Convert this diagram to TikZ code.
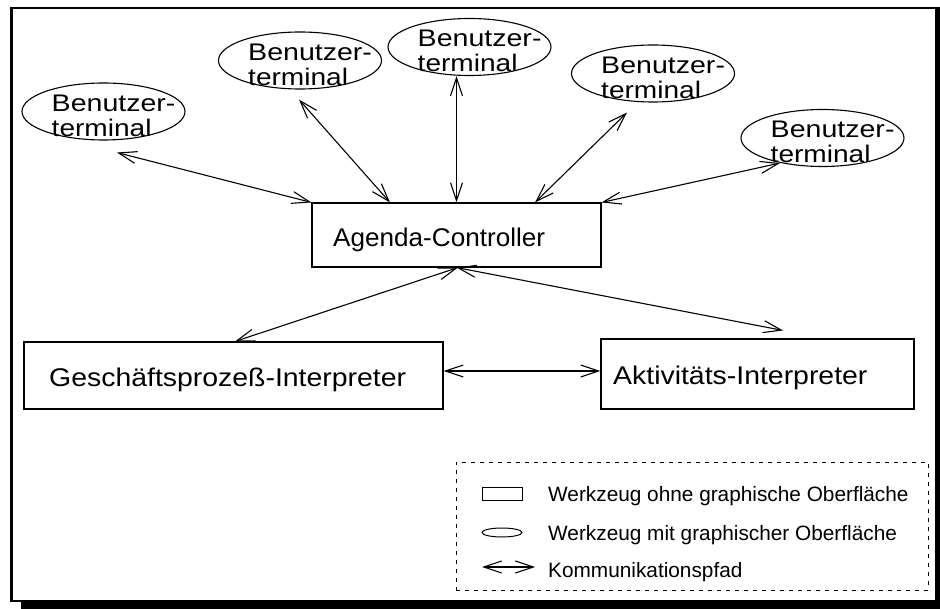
\documentclass[tikz,border=0pt]{standalone}
\usepackage{graphicx}
\usepackage{fontspec}
\setmainfont{Liberation Sans}
\usetikzlibrary{arrows.meta,calc,shapes.geometric}
\newcommand{\wide}[2]{\scalebox{#1}[1]{#2}}
\begin{document}
\begin{tikzpicture}[x=1pt,y=-1pt,
  tip/.tip={Straight Barb[length=18pt,width=12pt]},
  conn/.style={line width=1.1pt,tip-tip},
  term/.style={draw,ellipse,line width=1.1pt,minimum width=163pt,minimum height=57pt,inner sep=0pt},
  tool/.style={draw,rectangle,line width=1.1pt,inner sep=0pt},
  big/.style={anchor=base west,inner sep=0pt,text depth=0pt,font=\fontsize{25.6}{30}\selectfont},
  tt/.style={anchor=base west,inner sep=0pt,text depth=0pt,font=\fontsize{24}{28}\selectfont},
  small/.style={anchor=base west,inner sep=0pt,font=\fontsize{20.8}{24}\selectfont}]
\useasboundingbox (0,0) rectangle (940,609);
% frame with shadow
\fill (10,7) rectangle (940,9.5);
\fill (10,7) rectangle (12.5,602);
\fill (10,600) rectangle (940,602);
\fill (21,601) rectangle (940,609);
\fill (935,7) rectangle (940,609);
% user terminals
\node[term] (e1) at (103.5,111.5) {};
\node[term] (e2) at (300,60.5) {};
\node[term] (e3) at (469.5,47) {};
\node[term] (e4) at (653,73.5) {};
\node[term] (e5) at (822.5,138) {};
\foreach \e in {e1,e2,e3,e4,e5}{
  \node[tt] (\e a) at ($(\e.center)+(-52,0)$) {\wide{1.19}{Benutzer-}};
  \node[tt] (\e b) at ($(\e.center)+(-52,25)$) {\wide{1.17}{terminal}};
}
% tools
\node[tool,minimum width=289pt,minimum height=64pt] (ac) at (456.5,235) {};
\node[big] (act) at (333,247) {\wide{1.02}{Agenda-Controller}};
\node[tool,minimum width=419pt,minimum height=67pt] (gi) at (233.5,375.5) {};
\node[big] (git) at (49,387) {\wide{1.11}{Geschäftsprozeß-Interpreter}};
\node[tool,minimum width=313pt,minimum height=70pt] (ai) at (757.5,374) {};
\node[big] (ait) at (613,385) {\wide{1.11}{Aktivitäts-Interpreter}};
% connectors
\draw[conn] ($(e1.south)+(13.5,12)$) -- (ac.north west);
\draw[conn] ($(e2.south)+(-1,10)$) -- ($(ac.north)+(-66.5,0)$);
\draw[conn] (ac.north |- e3.south) -- (ac.north);
\draw[conn] ($(e4.south)+(-26,10)$) -- ($(ac.north)+(78.5,0)$);
\draw[conn] ($(e5.south)+(-42.5,-4)$) -- (ac.north east);
\draw[conn] ($(ac.south)+(1.5,0)$) -- ($(gi.north)+(1.5,0)$);
\draw[conn] (ac.south) -- ($(ai.north)+(25.5,-8)$);
\draw[conn] ([yshift=4.5pt]gi.east) -- ([yshift=3pt]ai.west);
% legend
\node[draw,rectangle,line width=1pt,dash pattern=on 4pt off 5pt,minimum width=472pt,minimum height=128pt,inner sep=0pt] (lg) at (692,526) {};
\node[tool,line width=1pt,minimum width=40pt,minimum height=13pt] (li1) at (502,493.5) {};
\node[draw,ellipse,line width=1pt,minimum width=40pt,minimum height=9pt,inner sep=0pt] (li2) at (502,532.5) {};
\coordinate (la) at (482,567);
\coordinate (lb) at (535,567);
\draw[conn] (la) -- (lb);
\node[small] (lt1) at (548,501) {Werkzeug ohne graphische Oberfläche};
\node[small] (lt2) at (548,540) {Werkzeug mit graphischer Oberfläche};
\node[small] (lt3) at (548,577) {Kommunikationspfad};
\end{tikzpicture}
\end{document}
